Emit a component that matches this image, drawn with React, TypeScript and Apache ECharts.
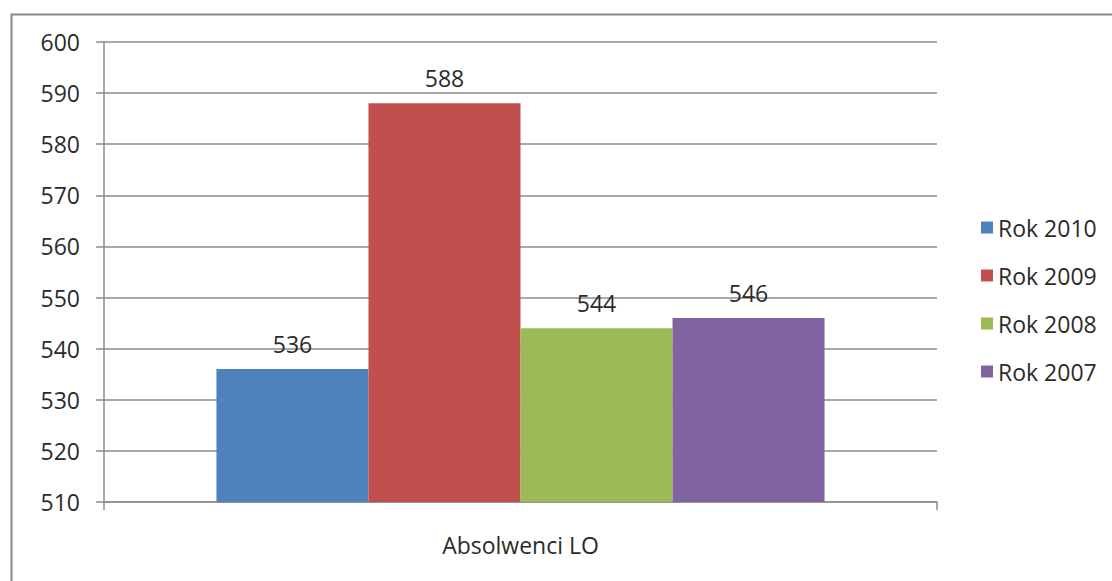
import React, { useEffect, useRef } from "react";
import * as echarts from "echarts";

const categories = ["Absolwenci LO"];
const seriesNames = ["Rok 2010", "Rok 2009", "Rok 2008", "Rok 2007"];
const seriesValues = [536, 588, 544, 546];
const seriesColors = ["#4F81BD", "#C0504D", "#9BBB59", "#8064A2"];
const yMin = 510;
const yMax = 600;
const yStep = 10;

const FONT = "'Open Sans', sans-serif";
const TEXT = "#2b2b2b";
const FS = 23;

export default function App() {
  const ref = useRef<HTMLDivElement>(null);
  useEffect(() => {
    if (!ref.current) return;
    const chart = echarts.init(ref.current, undefined, { renderer: "svg" });
    chart.setOption({
      animation: false,
      backgroundColor: "#ffffff",
      textStyle: { fontFamily: FONT },
      graphic: [
        {
          type: "rect",
          left: 9,
          top: 12,
          shape: { x: 0, y: 0, width: 1300, height: 800 },
          style: { fill: "none", stroke: "#8a8a8a", lineWidth: 2 },
          silent: true,
          z: -1,
        },
      ],
      grid: { left: 104, right: 175, top: 42, bottom: 79 },
      legend: {
        orient: "vertical",
        left: 976,
        top: 211,
        itemWidth: 12,
        itemHeight: 12,
        itemGap: 25,
        icon: "rect",
        textStyle: { fontFamily: FONT, fontSize: FS, color: TEXT },
        data: seriesNames,
      },
      xAxis: {
        type: "category",
        data: categories,
        axisLine: { lineStyle: { color: "#8c8c8c", width: 1.5 } },
        axisTick: { show: true, length: 8, lineStyle: { color: "#8c8c8c", width: 1.5 } },
        axisLabel: { fontFamily: FONT, fontSize: FS, color: TEXT, margin: 31 },
      },
      yAxis: {
        type: "value",
        min: yMin,
        max: yMax,
        interval: yStep,
        axisLine: { show: true, lineStyle: { color: "#8c8c8c", width: 1.5 } },
        axisTick: { show: true, length: 8, lineStyle: { color: "#8c8c8c", width: 1.5 } },
        axisLabel: { fontFamily: FONT, fontSize: FS, color: TEXT, margin: 24 },
        splitLine: { show: true, lineStyle: { color: "#8c8c8c", width: 1.5 } },
      },
      series: seriesNames.map((name, i) => ({
        name,
        type: "bar",
        data: [seriesValues[i]],
        barGap: "0%",
        barCategoryGap: "27%",
        itemStyle: { color: seriesColors[i] },
        label: {
          show: true,
          position: "top",
          distance: 14,
          fontFamily: FONT,
          fontSize: FS,
          color: TEXT,
        },
      })),
    });
    return () => chart.dispose();
  }, []);
  return (
    <div
      ref={ref}
      style={{ position: "fixed", left: 0, top: 0, width: 1112, height: 581, background: "#fff" }}
    />
  );
}
